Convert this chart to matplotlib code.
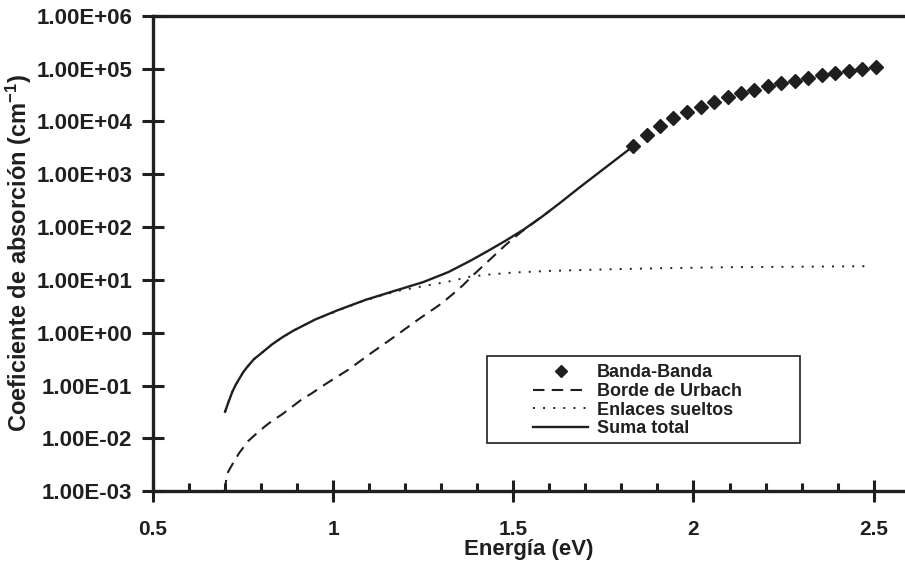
import matplotlib
matplotlib.use("Agg")
import matplotlib.pyplot as plt
from matplotlib.patches import Rectangle
from matplotlib.ticker import FixedLocator, FuncFormatter, MultipleLocator

plt.rcParams["font.family"] = ["Liberation Sans", "DejaVu Sans"]
plt.rcParams["font.weight"] = "bold"
plt.rcParams["mathtext.fontset"] = "custom"
plt.rcParams["mathtext.bf"] = "Liberation Sans:bold"
plt.rcParams["mathtext.rm"] = "Liberation Sans:bold"
plt.rcParams["mathtext.default"] = "bf"

ink = "#1e1f1e"

# Banda-Banda (diamonds)
e_banda = [1.833, 1.870, 1.907, 1.944, 1.983, 2.020, 2.057, 2.095, 2.132, 2.168,
           2.206, 2.244, 2.281, 2.318, 2.357, 2.394, 2.431, 2.469, 2.506]
a_banda = [3.4e3, 5.6e3, 8.2e3, 1.15e4, 1.53e4, 1.9e4, 2.37e4, 2.87e4, 3.41e4, 3.99e4,
           4.69e4, 5.27e4, 5.9e4, 6.7e4, 7.57e4, 8.36e4, 9.0e4, 9.7e4, 1.06e5]

# Borde de Urbach (dashed)
e_urbach = [0.699, 0.705, 0.715, 0.728, 0.74, 0.764, 0.785, 0.811, 0.83, 0.857, 0.88,
            0.913, 0.94, 0.977, 1.042, 1.107, 1.171, 1.236, 1.30, 1.33, 1.36,
            1.39, 1.42, 1.45, 1.48, 1.52, 1.56, 1.60]
a_urbach = [0.0010, 0.0021, 0.0028, 0.0040, 0.0054, 0.0089, 0.012, 0.017, 0.0214, 0.0282,
            0.037, 0.055, 0.071, 0.105, 0.20, 0.42, 0.85, 1.78, 3.55, 5.25, 7.9,
            12.6, 19.5, 30.2, 46.8, 79, 126, 200]

# Enlaces sueltos (dotted)
e_sueltos = [0.70, 0.71, 0.72, 0.73, 0.75, 0.76, 0.78, 0.80, 0.83, 0.86, 0.89, 0.95,
             1.01, 1.07, 1.13, 1.18, 1.23, 1.28, 1.32, 1.38, 1.43, 1.50, 1.60, 1.75,
             1.90, 2.10, 2.30, 2.49]
a_sueltos = [0.032, 0.050, 0.076, 0.105, 0.178, 0.219, 0.316, 0.407, 0.60, 0.83, 1.10, 1.78,
             2.57, 3.7, 5.0, 6.2, 7.2, 8.3, 9.3, 11.5, 12.6, 13.8, 14.8, 15.8,
             16.6, 17.4, 17.8, 18.2]

# Suma total (solid)
e_total = [0.70, 0.71, 0.72, 0.73, 0.75, 0.76, 0.78, 0.80, 0.83, 0.86, 0.89, 0.95,
           1.01, 1.09, 1.16, 1.25, 1.32, 1.38, 1.43, 1.48, 1.53, 1.58, 1.63, 1.68,
           1.76, 1.833]
a_total = [0.032, 0.050, 0.076, 0.105, 0.178, 0.219, 0.316, 0.407, 0.60, 0.83, 1.10, 1.78,
           2.63, 4.2, 5.9, 9.1, 14.1, 22.9, 35.5, 56, 91, 158, 288, 537,
           1410, 3400]

y_ticks = [1e-3, 1e-2, 1e-1, 1e0, 1e1, 1e2, 1e3, 1e4, 1e5, 1e6]
x_ticks = [0.5, 1, 1.5, 2, 2.5]
x_labels = ["0.5", "1", "1.5", "2", "2.5"]

fig = plt.figure(figsize=(9.05, 5.64), dpi=100)
ax = fig.add_axes([153 / 905, 1 - 491.3 / 564, 752 / 905, 475.6 / 564])

ax.plot(e_sueltos, a_sueltos, color=ink, lw=1.4, linestyle=(0, (1, 4.2)), label="Enlaces sueltos")
ax.plot(e_urbach, a_urbach, color=ink, lw=1.5, linestyle=(0, (5.5, 3.5)), label="Borde de Urbach")
ax.plot(e_total, a_total, color=ink, lw=1.7, label="Suma total")
ax.plot(e_banda, a_banda, linestyle="none", marker="D", markersize=7.5,
        color=ink, label="Banda-Banda")

ax.set_yscale("log")
ax.set_ylim(1e-3, 1e6)
ax.set_xlim(0.5, 2.587)

ax.yaxis.set_major_locator(FixedLocator(y_ticks))
ax.yaxis.set_minor_locator(FixedLocator([]))
ax.yaxis.set_major_formatter(FuncFormatter(lambda v, p: f"{v:.2E}"))
ax.set_xticks(x_ticks)
ax.set_xticklabels(x_labels)
ax.xaxis.set_minor_locator(MultipleLocator(0.1))

ax.tick_params(axis="y", which="major", direction="inout", length=16, width=2.2,
               color=ink, labelsize=16, pad=7, labelcolor=ink)
ax.tick_params(axis="x", which="major", direction="inout", length=16, width=2.2,
               color=ink, labelsize=15, pad=12.5, labelcolor=ink)
ax.tick_params(axis="x", which="minor", direction="in", length=6, width=2.2, color=ink)

for side in ["left", "bottom", "top"]:
    ax.spines[side].set_linewidth(2.4)
    ax.spines[side].set_color(ink)
ax.spines["right"].set_visible(False)

ax.set_xlabel("Energía (eV)", fontsize=16, fontweight="bold", color=ink, labelpad=0)
fig.text(19 / 905, 1 - 253 / 564, "Coeficiente de absorción (cm$^{-1}$)",
         rotation=90, ha="center", va="center", fontsize=17, fontweight="bold", color=ink)

# legend box
ax.add_patch(Rectangle((0.4441, 0.1016), 0.4163, 0.1829, transform=ax.transAxes,
                       fill=False, edgecolor=ink, lw=1.2, zorder=5))
h, l = ax.get_legend_handles_labels()
order = [3, 1, 0, 2]
leg = ax.legend([h[i] for i in order], [l[i] for i in order], loc="center left",
                bbox_to_anchor=(0.5053, 0.19), frameon=False, fontsize=13,
                handlelength=3.05, handletextpad=0.5, borderpad=0, borderaxespad=0,
                labelspacing=0.09, numpoints=1, markerscale=0.85)
for t in leg.get_texts():
    t.set_color(ink)

fig.savefig("out.png", dpi=100)
